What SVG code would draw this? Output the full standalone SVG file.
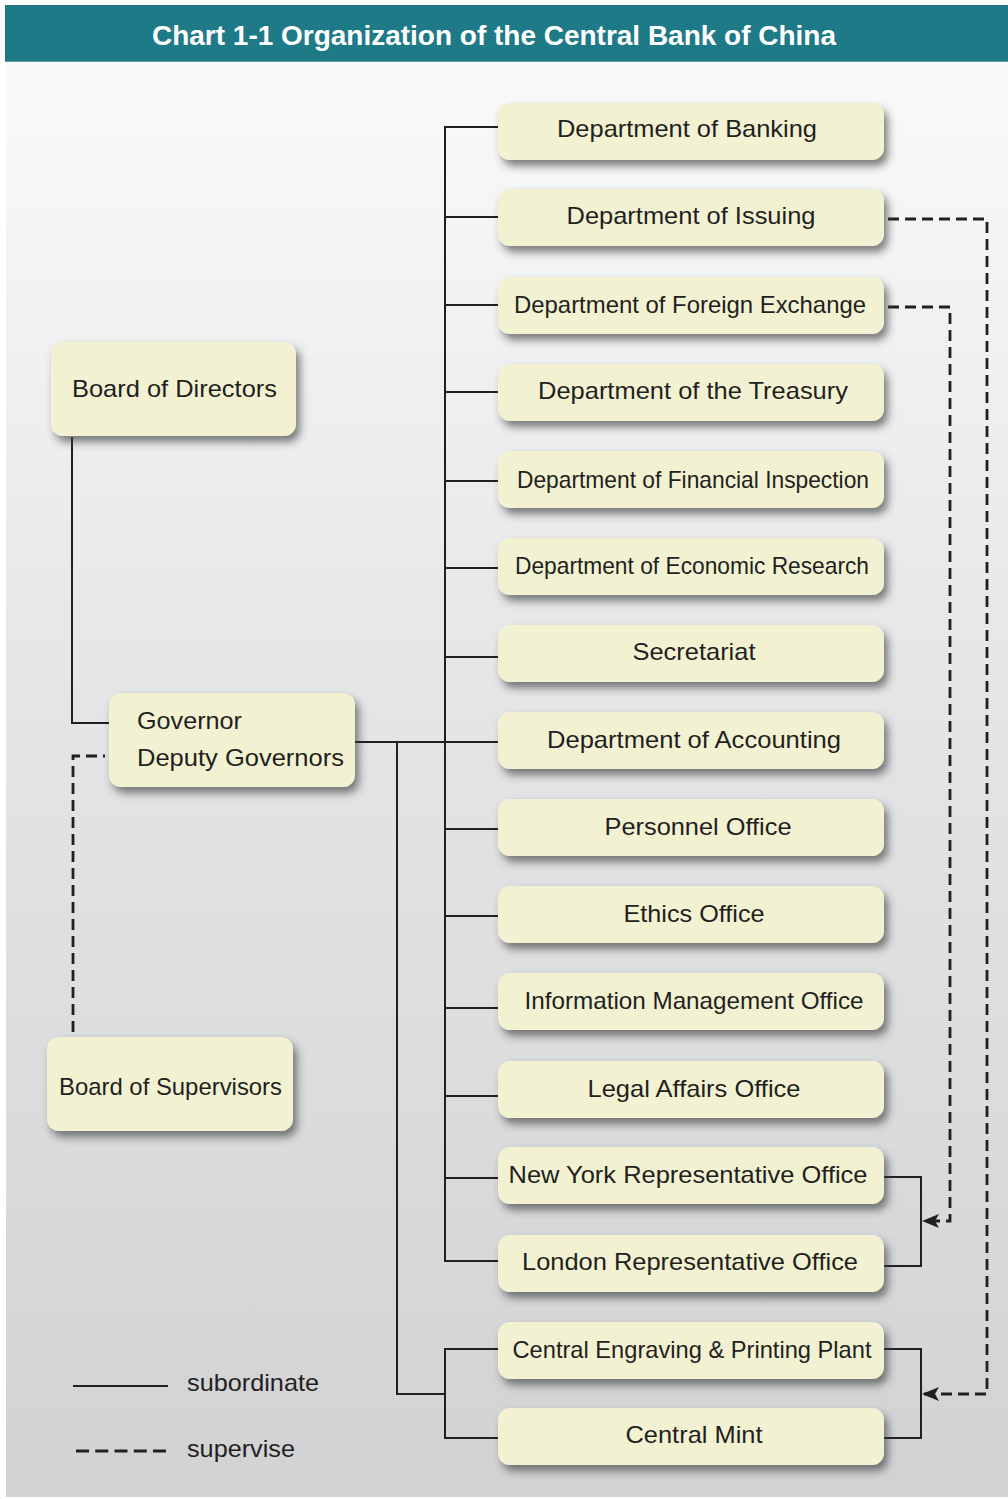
<svg xmlns="http://www.w3.org/2000/svg" width="1008" height="1499" viewBox="0 0 1008 1499">
<defs>
<style>
.box{fill:#f2f2d3;filter:url(#sh);}
.t{font-family:"Liberation Sans",Arial,sans-serif;font-size:24px;fill:#231f20;}
.tc{text-anchor:middle;}
.ln{fill:none;stroke:#231f20;stroke-width:2;}
.dl{fill:none;stroke:#231f20;stroke-width:2.8;stroke-dasharray:11 6;}
</style>
<linearGradient id="bg" x1="0" y1="0" x2="0" y2="1">
<stop offset="0" stop-color="#fafafa"/>
<stop offset="0.45" stop-color="#e4e5e7"/>
<stop offset="1" stop-color="#d1d2d4"/>
</linearGradient>
<filter id="sh" x="-10%" y="-20%" width="125%" height="160%">
<feGaussianBlur in="SourceAlpha" stdDeviation="4"/>
<feOffset dx="4" dy="6" result="b"/>
<feFlood flood-color="#3a3a3a" flood-opacity="0.65"/>
<feComposite in2="b" operator="in"/>
<feMerge><feMergeNode/><feMergeNode in="SourceGraphic"/></feMerge>
</filter>
<marker id="arr" markerUnits="userSpaceOnUse" markerWidth="17" markerHeight="14" refX="16" refY="7" orient="auto" viewBox="0 0 17 14">
<path d="M17,7 L0,0 L4,7 L0,14 Z" fill="#231f20"/>
</marker>
</defs>

<rect x="0" y="0" width="1008" height="1499" fill="#ffffff"/>
<rect x="6" y="62" width="1002" height="1435" fill="url(#bg)"/>

<g id="title">
<rect x="5" y="5" width="1003" height="57" fill="#1f7a87"/>
<line x1="5" y1="61.5" x2="1008" y2="61.5" stroke="#5f9fa9" stroke-width="1"/>
<text x="494" y="45" text-anchor="middle" font-family="'Liberation Sans',Arial,sans-serif" font-weight="bold" font-size="28" fill="#ffffff" textLength="684" lengthAdjust="spacingAndGlyphs">Chart 1-1 Organization of the Central Bank of China</text>
</g>

<g id="connectors">
<path class="ln" d="M72,437 V723 H109"/>
<path class="dl" d="M73,1032 V756 H105"/>
<path class="ln" d="M355,742 H498"/>
<path class="ln" d="M498,127 H445 V1261 H498"/>
<path class="ln" d="M445,217 H498 M445,305 H498 M445,392 H498 M445,481 H498 M445,568 H498 M445,657 H498 M445,829 H498 M445,916 H498 M445,1008 H498 M445,1096 H498 M445,1178 H498"/>
<path class="ln" d="M397,742 V1394 H445"/>
<path class="ln" d="M498,1349 H445 V1438 H498"/>
<path class="ln" d="M884,1177 H921 V1266 H884"/>
<path class="ln" d="M884,1349 H921 V1438 H884"/>
<path class="dl" d="M888,307 H950 V1221 H923" marker-end="url(#arr)"/>
<path class="dl" d="M888,219 H987 V1394 H923" marker-end="url(#arr)"/>
</g>

<g id="node-board-directors">
<rect class="box" x="51" y="342" width="245" height="94" rx="12"/>
<text class="t" x="72" y="397" textLength="205" lengthAdjust="spacingAndGlyphs">Board of Directors</text>
</g>
<g id="node-governor">
<rect class="box" x="109" y="693" width="246" height="94" rx="12"/>
<text class="t" x="137" y="729" textLength="105" lengthAdjust="spacingAndGlyphs">Governor</text>
<text class="t" x="137" y="766" textLength="207" lengthAdjust="spacingAndGlyphs">Deputy Governors</text>
</g>
<g id="node-board-supervisors">
<rect class="box" x="47" y="1037" width="246" height="94" rx="12"/>
<text class="t" x="59" y="1095" textLength="223" lengthAdjust="spacingAndGlyphs">Board of Supervisors</text>
</g>

<g id="node-banking"><rect class="box" x="498" y="103" width="386" height="57" rx="12"/><text class="t tc" x="687" y="137" textLength="260" lengthAdjust="spacingAndGlyphs">Department of Banking</text></g>
<g id="node-issuing"><rect class="box" x="498" y="189" width="386" height="57" rx="12"/><text class="t tc" x="691" y="224" textLength="249" lengthAdjust="spacingAndGlyphs">Department of Issuing</text></g>
<g id="node-foreign-exchange"><rect class="box" x="498" y="277" width="386" height="57" rx="12"/><text class="t tc" x="690" y="313" textLength="352" lengthAdjust="spacingAndGlyphs">Department of Foreign Exchange</text></g>
<g id="node-treasury"><rect class="box" x="498" y="364" width="386" height="57" rx="12"/><text class="t tc" x="693" y="399" textLength="310" lengthAdjust="spacingAndGlyphs">Department of the Treasury</text></g>
<g id="node-financial-inspection"><rect class="box" x="498" y="451" width="386" height="57" rx="12"/><text class="t tc" x="693" y="488" textLength="352" lengthAdjust="spacingAndGlyphs">Department of Financial Inspection</text></g>
<g id="node-economic-research"><rect class="box" x="498" y="538" width="386" height="57" rx="12"/><text class="t tc" x="692" y="574" textLength="354" lengthAdjust="spacingAndGlyphs">Department of Economic Research</text></g>
<g id="node-secretariat"><rect class="box" x="498" y="625" width="386" height="57" rx="12"/><text class="t tc" x="694" y="660" textLength="123" lengthAdjust="spacingAndGlyphs">Secretariat</text></g>
<g id="node-accounting"><rect class="box" x="498" y="712" width="386" height="57" rx="12"/><text class="t tc" x="694" y="748" textLength="294" lengthAdjust="spacingAndGlyphs">Department of Accounting</text></g>
<g id="node-personnel"><rect class="box" x="498" y="799" width="386" height="57" rx="12"/><text class="t tc" x="698" y="835" textLength="187" lengthAdjust="spacingAndGlyphs">Personnel Office</text></g>
<g id="node-ethics"><rect class="box" x="498" y="886" width="386" height="57" rx="12"/><text class="t tc" x="694" y="922" textLength="141" lengthAdjust="spacingAndGlyphs">Ethics Office</text></g>
<g id="node-information"><rect class="box" x="498" y="973" width="386" height="57" rx="12"/><text class="t tc" x="694" y="1009" textLength="339" lengthAdjust="spacingAndGlyphs">Information Management Office</text></g>
<g id="node-legal"><rect class="box" x="498" y="1061" width="386" height="57" rx="12"/><text class="t tc" x="694" y="1097" textLength="213" lengthAdjust="spacingAndGlyphs">Legal Affairs Office</text></g>
<g id="node-new-york"><rect class="box" x="498" y="1147" width="386" height="57" rx="12"/><text class="t tc" x="688" y="1183" textLength="359" lengthAdjust="spacingAndGlyphs">New York Representative Office</text></g>
<g id="node-london"><rect class="box" x="498" y="1235" width="386" height="57" rx="12"/><text class="t tc" x="690" y="1270" textLength="336" lengthAdjust="spacingAndGlyphs">London Representative Office</text></g>
<g id="node-engraving"><rect class="box" x="498" y="1322" width="386" height="57" rx="12"/><text class="t tc" x="692" y="1358" textLength="359" lengthAdjust="spacingAndGlyphs">Central Engraving &amp; Printing Plant</text></g>
<g id="node-mint"><rect class="box" x="498" y="1408" width="386" height="57" rx="12"/><text class="t tc" x="694" y="1443" textLength="137" lengthAdjust="spacingAndGlyphs">Central Mint</text></g>

<g id="legend">
<line class="ln" x1="73" y1="1386" x2="168" y2="1386"/>
<text class="t" x="187" y="1391" textLength="132" lengthAdjust="spacingAndGlyphs">subordinate</text>
<line x1="76" y1="1451" x2="166" y2="1451" stroke="#231f20" stroke-width="2.8" stroke-dasharray="13 6.25"/>
<text class="t" x="187" y="1457" textLength="108" lengthAdjust="spacingAndGlyphs">supervise</text>
</g>
</svg>
